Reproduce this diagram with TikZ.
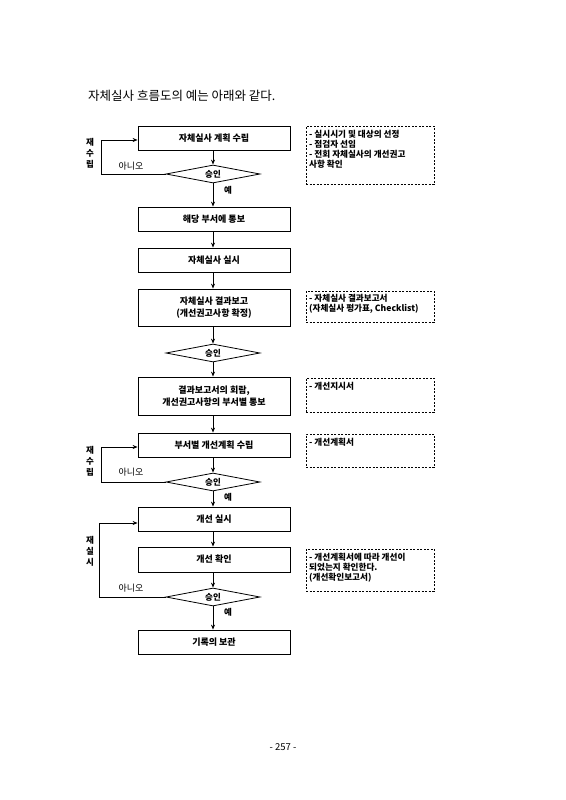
\documentclass[tikz,border=0pt]{standalone}
\usepackage{fontspec}
\setmainfont{Noto Sans CJK KR}
\usetikzlibrary{shapes.geometric,arrows.meta}
\begin{document}
\begin{tikzpicture}[x=1pt,y=-1pt,
  stepbox/.style={draw,line width=0.8pt,minimum width=152pt,inner sep=1pt,align=center,font=\fontsize{9}{11.5}\selectfont\bfseries},
  decide/.style={draw,line width=0.8pt,diamond,aspect=5,minimum width=94pt,minimum height=18pt,inner sep=0pt,font=\fontsize{8.5}{9}\selectfont\bfseries},
  note/.style={draw,dashed,dash pattern=on 2pt off 1.5pt,line width=0.8pt,minimum width=128pt,inner sep=0pt},
  notetext/.style={anchor=north west,align=left,inner sep=0pt,font=\fontsize{8.6}{10}\selectfont\bfseries},
  arr/.style={line width=0.8pt,-{Stealth[length=5pt,width=4pt]}},
  lbl/.style={inner sep=0pt,font=\fontsize{8.5}{9}\selectfont\bfseries},
  vlbl/.style={inner sep=0pt,align=center,font=\fontsize{8.5}{11}\selectfont\bfseries},
  nolbl/.style={inner sep=0pt,font=\fontsize{9}{10}\selectfont}]
\fill[white] (0,0) rectangle (565,800);
\useasboundingbox (0,0) rectangle (565,800);

\node[anchor=west,inner sep=0pt,font=\fontsize{12.5}{14}\selectfont] (title) at (88,96) {자체실사 흐름도의 예는 아래와 같다.};

% main boxes
\node[stepbox,minimum height=24pt] (b1) at (214,138) {자체실사 계획 수립};
\node[decide] (d1) at (213,174) {승인};
\node[stepbox,minimum height=24pt] (b2) at (214,219) {해당 부서에 통보};
\node[stepbox,minimum height=24pt] (b3) at (214,260) {자체실사 실시};
\node[stepbox,minimum height=37pt] (b4) at (214,307.5) {자체실사 결과보고\\(개선권고사항 확정)};
\node[decide] (d2) at (213,353) {승인};
\node[stepbox,minimum height=38pt] (b5) at (214,396) {결과보고서의 회람,\\개선권고사항의 부서별 통보};
\node[stepbox,minimum height=24pt] (b6) at (214,445) {부서별 개선계획 수립};
\node[decide] (d3) at (213,482) {승인};
\node[stepbox,minimum height=24pt] (b7) at (214,519) {개선 실시};
\node[stepbox,minimum height=25pt] (b8) at (214,559.5) {개선 확인};
\node[decide] (d4) at (213,597) {승인};
\node[stepbox,minimum height=24pt] (b9) at (214,642) {기록의 보관};

% straight connectors
\draw[arr] (b1.south -| d1.north) -- (d1.north);
\draw[arr] (d1.south) -- (b2.north -| d1.south);
\draw[arr] (b2.south -| d1.south) -- (b3.north -| d1.south);
\draw[arr] (b3.south -| d1.south) -- (b4.north -| d1.south);
\draw[arr] (b4.south -| d2.north) -- (d2.north);
\draw[arr] (d2.south) -- (b5.north -| d2.south);
\draw[arr] (b5.south -| d3.north) -- (b6.north -| d3.north);
\draw[arr] (b6.south -| d3.north) -- (d3.north);
\draw[arr] (d3.south) -- (b7.north -| d3.south);
\draw[arr] (b7.south -| d4.north) -- (b8.north -| d4.north);
\draw[arr] (b8.south -| d4.north) -- (d4.north);
\draw[arr] (d4.south) -- (b9.north -| d4.south);

% loops
\draw[arr] (d1.west) -- ++(-64,0) |- ([yshift=-2pt]b1.west);
\draw[arr] (d3.west) -- ++(-64,0) |- ([yshift=-2pt]b6.west);
\draw[arr] (d4.west) -- ++(-66,0) |- ([yshift=-4pt]b7.west);

% loop labels
\node[vlbl] (r1) at (90,153) {재\\수\\립};
\node[vlbl] (r2) at (90,461) {재\\수\\립};
\node[vlbl] (r3) at (90,551) {재\\실\\시};
\node[nolbl] (n1) at (131,166) {아니오};
\node[nolbl] (n3) at (131,472) {아니오};
\node[nolbl] (n4) at (131,588) {아니오};
\node[lbl] (y1) at (228,190) {예};
\node[lbl] (y3) at (228,497) {예};
\node[lbl] (y4) at (228,612) {예};

% notes
\node[note,minimum height=58pt] (m1) at (370,155) {};
\node[notetext] (t1) at (309,130.5) {- 실시시기 및 대상의 선정\\- 점검자 선임\\- 전회 자체실사의 개선권고\\사항 확인};
\node[note,minimum height=31pt] (m2) at (370,306.5) {};
\node[notetext] (t2) at (309,294.5) {- 자체실사 결과보고서\\(자체실사 평가표, Checklist)};
\node[note,minimum height=34pt] (m3) at (370,395) {};
\node[notetext] (t3) at (309,382) {- 개선지시서};
\node[note,minimum height=33pt] (m4) at (370,450.5) {};
\node[notetext] (t4) at (309,438) {- 개선계획서};
\node[note,minimum height=42pt] (m5) at (370,570) {};
\node[notetext] (t5) at (309,553) {- 개선계획서에 따라 개선이\\되었는지 확인한다.\\(개선확인보고서)};

\node[inner sep=0pt,font=\fontsize{9.5}{10}\selectfont] (pg) at (283,747) {-\ 257\ -};
\end{tikzpicture}
\end{document}
